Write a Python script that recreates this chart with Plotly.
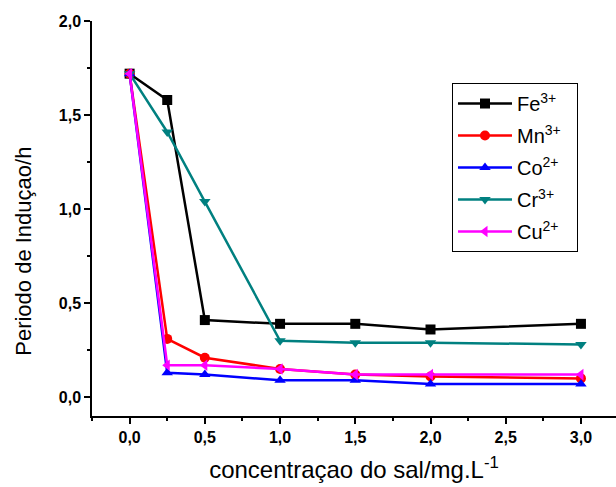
import plotly.graph_objects as go

# Salt concentration (mg/L) and induction period (h) for each metal ion
concentration = [0.0, 0.25, 0.5, 1.0, 1.5, 2.0, 3.0]
fe3 = [1.72, 1.58, 0.41, 0.39, 0.39, 0.36, 0.39]
mn3 = [1.72, 0.31, 0.21, 0.15, 0.12, 0.11, 0.10]
co2 = [1.72, 0.13, 0.12, 0.09, 0.09, 0.07, 0.07]
cr3 = [1.72, 1.41, 1.04, 0.30, 0.29, 0.29, 0.28]
cu2 = [1.72, 0.17, 0.17, 0.15, 0.12, 0.12, 0.12]

x_ticks = [0.0, 0.5, 1.0, 1.5, 2.0, 2.5, 3.0]
x_tick_labels = ["0,0", "0,5", "1,0", "1,5", "2,0", "2,5", "3,0"]
y_ticks = [0.0, 0.5, 1.0, 1.5, 2.0]
y_tick_labels = ["0,0", "0,5", "1,0", "1,5", "2,0"]

series = [
    ("Fe<sup>3+</sup>", fe3, "#000000", "square"),
    ("Mn<sup>3+</sup>", mn3, "#FF0000", "circle"),
    ("Co<sup>2+</sup>", co2, "#0000FF", "triangle-up"),
    ("Cr<sup>3+</sup>", cr3, "#008080", "triangle-down"),
    ("Cu<sup>2+</sup>", cu2, "#FF00FF", "triangle-left"),
]

fig = go.Figure()
for i, (name, values, color, symbol) in enumerate(series):
    fig.add_trace(go.Scatter(
        x=concentration, y=values, name=name + "&nbsp;&nbsp;", mode="lines+markers",
        legendgroup=f"g{i}",
        line=dict(color=color, width=2.5),
        marker=dict(color=color, symbol=symbol, size=10, line=dict(width=0)),
    ))

font_family = "Liberation Sans, Arial, sans-serif"
axis_font = dict(family=font_family, size=16, color="#000000", weight="bold")

# y-axis title placed as an annotation so it sits slightly below the axis centre
fig.add_annotation(
    text="Periodo de Induçao/h", textangle=-90,
    xref="paper", yref="paper", x=-0.13, y=0.418,
    xanchor="center", yanchor="middle", showarrow=False,
    font=dict(family=font_family, size=22, color="#000000"),
)

fig.update_layout(
    width=616, height=487,
    margin=dict(l=92, r=0, t=21, b=71),
    paper_bgcolor="white", plot_bgcolor="white",
    showlegend=True,
    legend=dict(
        x=0.687, y=0.843, xanchor="left", yanchor="top",
        bordercolor="#000000", borderwidth=1, bgcolor="white",
        font=dict(family=font_family, size=20, color="#000000"),
        tracegroupgap=3, itemwidth=54,
    ),
    xaxis=dict(
        range=[-0.25, 3.233], tickvals=x_ticks, ticktext=x_tick_labels,
        showgrid=False, zeroline=False, showline=True, linecolor="#000000", linewidth=1.5,
        ticks="outside", ticklen=6, tickwidth=1.5, tickcolor="#000000",
        minor=dict(ticks="outside", dtick=0.25, tick0=0, ticklen=3, tickwidth=1.5, tickcolor="#000000", showgrid=False),
        tickfont=axis_font,
        title=dict(text="concentraçao do sal/mg.L<sup>-1</sup>",
                   font=dict(family=font_family, size=24, color="#000000"), standoff=16),
    ),
    yaxis=dict(
        range=[-0.1, 2.0], tickvals=y_ticks, ticktext=y_tick_labels,
        showgrid=False, zeroline=False, showline=True, linecolor="#000000", linewidth=1.5,
        ticks="outside", ticklen=6, tickwidth=1.5, tickcolor="#000000",
        minor=dict(ticks="outside", dtick=0.25, tick0=0, ticklen=3, tickwidth=1.5, tickcolor="#000000", showgrid=False),
        tickfont=axis_font,
    ),
)

fig.write_html("out.html")
